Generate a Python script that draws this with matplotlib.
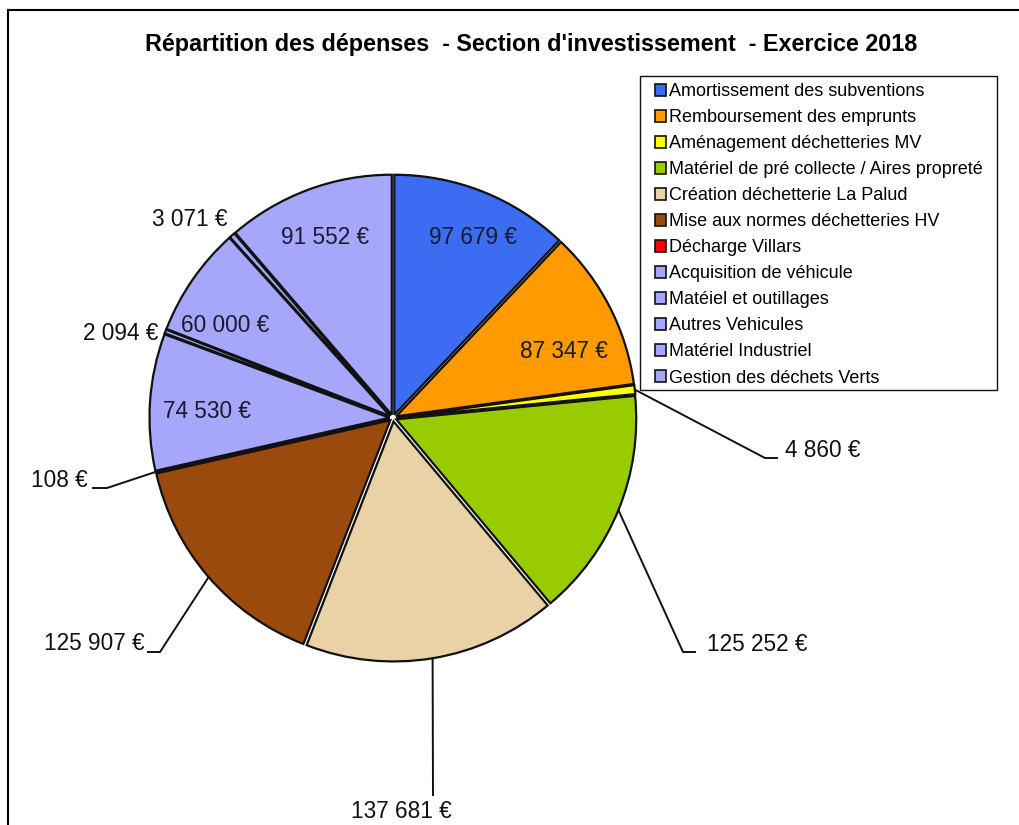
import numpy as np
import matplotlib
matplotlib.use("Agg")
import matplotlib.pyplot as plt
from matplotlib.lines import Line2D
from matplotlib.patches import Rectangle

plt.rcParams["font.family"] = ["Liberation Sans", "DejaVu Sans"]

TITLE = "Répartition des dépenses  - Section d'investissement  - Exercice 2018"

categories = [
    "Amortissement des subventions",
    "Remboursement des emprunts",
    "Aménagement déchetteries MV",
    "Matériel de pré collecte / Aires propreté",
    "Création déchetterie La Palud",
    "Mise aux normes déchetteries HV",
    "Décharge Villars",
    "Acquisition de véhicule",
    "Matéiel et outillages",
    "Autres Vehicules",
    "Matériel Industriel",
    "Gestion des déchets Verts",
]
values = [97679, 87347, 4860, 125252, 137681, 125907, 108, 74530, 2094, 60000, 3071, 91552]
colors = ["#3b6cf2", "#ff9a00", "#ffff00", "#99cc00", "#e8d2a6", "#9a4a0c",
          "#ff0000", "#a6a6fb", "#a6a6fb", "#a6a6fb", "#a6a6fb", "#a6a6fb"]

W, H = 1019, 825


def fmt(v):
    return f"{v:,}".replace(",", " ") + " €"


# label layout in pixel coordinates (y from top)
inside = {0: (473, 238), 1: (564, 351), 7: (207, 412), 9: (225, 326), 11: (325, 238)}
# idx: (elbow, line end, text xy, ha)
outside = {
    2: ((765, 458), (777, 458), (785, 457), "left"),
    3: ((683, 652), (695, 652), (707, 651), "left"),
    4: ((433, 795), (433, 795), (401, 818), "center"),
    5: ((160, 652), (148, 652), (145, 650), "right"),
    6: ((107, 488), (93, 488), (88, 487), "right"),
}
plain = {8: (158, 340, "right"), 10: (228, 226, "right")}

fig = plt.figure(figsize=(W / 100, H / 100), dpi=100)
ax = fig.add_axes([0, 0, 1, 1])
ax.set_xlim(0, W)
ax.set_ylim(0, H)
ax.set_aspect("equal")
ax.axis("off")

cx, cy, R = 393, H - 418, 240
wedges, _ = ax.pie(values, colors=colors, startangle=90, counterclock=False,
                   center=(cx, cy), radius=R, explode=[3.5] * len(values),
                   wedgeprops=dict(edgecolor="#111111", linewidth=1.6))
ax.set_xlim(0, W)
ax.set_ylim(0, H)

for i, (x, y) in inside.items():
    ax.text(x, H - y, fmt(values[i]), ha="center", va="center", fontsize=16.3, color="#1a1a2e")

for i, (elbow, end, txt, ha) in outside.items():
    w = wedges[i]
    ang = np.deg2rad((w.theta1 + w.theta2) / 2)
    x0 = w.center[0] + R * np.cos(ang)
    y0 = w.center[1] + R * np.sin(ang)
    ax.plot([x0, elbow[0], end[0]], [y0, H - elbow[1], H - end[1]], color="#111111", lw=1.4)
    ax.text(txt[0], H - txt[1], fmt(values[i]), ha=ha, va="baseline", fontsize=16.3, color="#111111")

for i, (x, y, ha) in plain.items():
    ax.text(x, H - y, fmt(values[i]), ha=ha, va="baseline", fontsize=16.3, color="#111111")

ax.text(531, H - 44, TITLE, ha="center", va="center", fontsize=16.8, fontweight="bold")

# legend box drawn separately, entries placed inside it
ax.add_patch(Rectangle((640, H - 390), 357, 314, facecolor="white",
                       edgecolor="#111111", linewidth=1.0, zorder=4))
leg = ax.legend(wedges, categories, loc="upper left",
                bbox_to_anchor=(648 / W, 1 - 76 / H), bbox_transform=fig.transFigure,
                fontsize=13, frameon=False, handlelength=0.6,
                handleheight=0.6, handletextpad=0.15, labelspacing=0.5,
                borderpad=0.4, borderaxespad=0)
leg.set_zorder(5)
for h in leg.legend_handles:
    h.set_linewidth(1.2)

# outer chart frame (left and top edges visible)
fig.add_artist(Line2D([8 / W, 8 / W], [0, 1 - 10 / H], color="black", lw=1.5,
                      transform=fig.transFigure))
fig.add_artist(Line2D([8 / W, 1], [1 - 10 / H, 1 - 10 / H], color="black", lw=1.5,
                      transform=fig.transFigure))

fig.savefig("out.png", dpi=100, facecolor="white")
